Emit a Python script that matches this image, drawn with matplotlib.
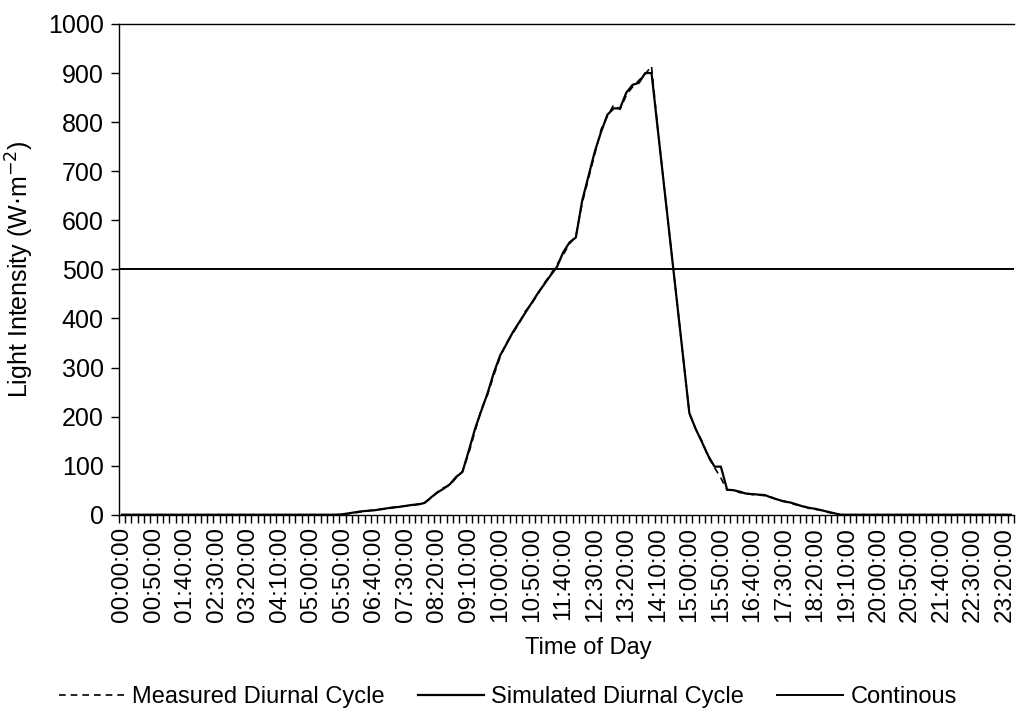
import matplotlib as mpl
mpl.rcParams["font.family"] = ["Liberation Sans", "DejaVu Sans"]
mpl.rcParams["font.size"] = 13
import numpy as np
import matplotlib.pyplot as plt

# 10-minute steps, 00:00:00 .. 23:30:00
times = ["%02d:%02d:00" % divmod(m, 60) for m in range(0, 24 * 60 - 20, 10)]

simulated = [0] * 35 + [
    1, 3, 5, 7, 8, 9, 11, 13, 15, 16,
    18, 20, 21, 24, 35, 45, 53, 62, 77, 87,
    130, 175, 212, 248, 290, 325, 348, 372, 392, 412,
    432, 452, 470, 488, 505, 535, 555, 565, 640, 690,
    740, 780, 815, 828, 828, 860, 876, 880, 900, 900,
    785, 669, 554, 438, 323, 207, 175, 148, 120, 98,
    98, 51, 50, 47, 43, 42, 41, 40, 35, 31,
    27, 25, 21, 17, 14, 12, 9, 6, 3,
] + [0] * 28

measured = [0] * 35 + [
    1, 2, 4, 6, 8, 10, 11, 12, 14, 17,
    18, 19, 22, 25, 33, 46, 55, 60, 75, 88,
    125, 170, 215, 245, 285, 322, 350, 370, 390, 415,
    430, 450, 472, 490, 510, 530, 552, 568, 635, 685,
    735, 785, 812, 835, 826, 855, 872, 885, 898, 914,
    785, 669, 554, 438, 323, 207, 175, 150, 118, 96,
    75, 50, 51, 45, 44, 41, 40, 39, 36, 30,
    28, 24, 20, 18, 13, 11, 9, 5, 2,
] + [0] * 28

continuous_level = 500

x = np.arange(len(times))

fig = plt.figure(figsize=(10.16, 7.26), dpi=100)
ax = fig.add_axes([0.117, 0.291, 0.881, 0.676])

l1, = ax.plot(x, measured, color="black", lw=1.2, dashes=(4, 3),
              label="Measured Diurnal Cycle")
l2, = ax.plot(x, simulated, color="black", lw=1.6,
              label="Simulated Diurnal Cycle")
l3 = ax.axhline(continuous_level, color="black", lw=1.4, label="Continous")

ax.set_xlim(-0.5, len(times) - 0.5)
ax.set_ylim(0, 1000)
ax.set_yticks(np.arange(0, 1001, 100))

ax.set_xticks(x[::5])
ax.set_xticklabels(times[::5], rotation=90)
ax.set_xticks(np.arange(len(times) + 1) - 0.5, minor=True)
ax.tick_params(axis="x", which="major", length=0, pad=9, labelsize=17.5)
ax.tick_params(axis="x", which="minor", length=6, width=1, direction="out")
ax.tick_params(axis="y", length=6, width=1, labelsize=18, pad=5)

ax.spines["right"].set_visible(False)
for s in ["left", "bottom", "top"]:
    ax.spines[s].set_linewidth(1)

ax.set_ylabel(r"Light Intensity (W$\cdot$m$^{-2}$)", fontsize=18)
ax.yaxis.set_label_coords(-0.093, 0.5)
ax.set_xlabel("Time of Day", fontsize=17)
ax.xaxis.set_label_coords(0.524, -0.25)

fig.legend(handles=[l1, l2, l3], loc="center", ncol=3,
           bbox_to_anchor=(0.5, 0.04), frameon=False, fontsize=17,
           handlelength=2.8, handletextpad=0.3, columnspacing=1.4)

fig.savefig("out.png", dpi=100)
